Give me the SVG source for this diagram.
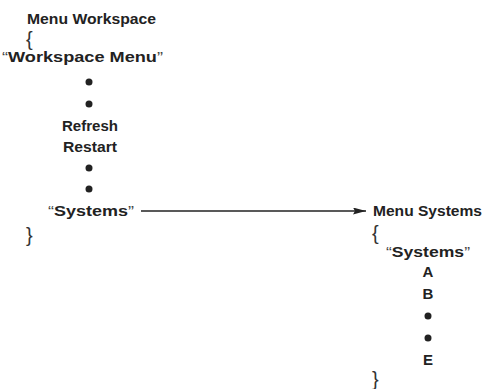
<svg xmlns="http://www.w3.org/2000/svg" width="484" height="389" viewBox="0 0 484 389">
<defs>
<style>
.t{font-family:"Liberation Sans",Arial,Helvetica,sans-serif;font-size:15px;font-weight:bold;fill:#222}
.q{font-weight:normal;fill:#444}
.c{text-anchor:middle}
.br{font-family:"Liberation Sans",Arial,sans-serif;font-size:20px;font-weight:normal;fill:#333}
.dot{fill:#222}
.conn{stroke:#222;stroke-width:1.3;fill:none}
</style>
<marker id="ah" viewBox="0 0 13 7" refX="13" refY="3.5" markerWidth="13" markerHeight="7" markerUnits="userSpaceOnUse" orient="auto">
<path d="M0,0 L13,3.5 L0,7 L2,3.5 Z" fill="#222"/>
</marker>
</defs>
<rect width="484" height="389" fill="#fff"/>
<g id="menu-workspace">
<text class="t" x="27" y="24" textLength="129" lengthAdjust="spacingAndGlyphs">Menu Workspace</text>
<text class="br" x="26" y="46">{</text>
<g id="item-workspace-menu"><text class="t" x="2" y="62" textLength="161" lengthAdjust="spacingAndGlyphs"><tspan class="q">“</tspan>Workspace Menu<tspan class="q">”</tspan></text></g>
<circle class="dot" cx="89" cy="82" r="3.5"/>
<circle class="dot" cx="89" cy="104" r="3.5"/>
<g id="item-refresh"><text class="t" x="62" y="131" textLength="56" lengthAdjust="spacingAndGlyphs">Refresh</text></g>
<g id="item-restart"><text class="t" x="63" y="152" textLength="54" lengthAdjust="spacingAndGlyphs">Restart</text></g>
<circle class="dot" cx="89" cy="168" r="3.5"/>
<circle class="dot" cx="89" cy="189" r="3.5"/>
<g id="item-systems"><text class="t" x="48" y="216" textLength="86" lengthAdjust="spacingAndGlyphs"><tspan class="q">“</tspan>Systems<tspan class="q">”</tspan></text></g>
<text class="br" x="26" y="242">}</text>
</g>
<g id="menu-systems">
<text class="t" x="373" y="216" textLength="109" lengthAdjust="spacingAndGlyphs">Menu Systems</text>
<text class="br" x="372" y="240">{</text>
<g id="item-systems-title"><text class="t" x="386" y="257" textLength="84" lengthAdjust="spacingAndGlyphs"><tspan class="q">“</tspan>Systems<tspan class="q">”</tspan></text></g>
<g id="item-a"><text class="t c" x="428" y="277">A</text></g>
<g id="item-b"><text class="t c" x="428" y="299">B</text></g>
<circle class="dot" cx="428" cy="316" r="3.5"/>
<circle class="dot" cx="428" cy="338" r="3.5"/>
<g id="item-e"><text class="t c" x="428" y="365">E</text></g>
<text class="br" x="372" y="386">}</text>
</g>
<g id="connectors">
<line class="conn" x1="141" y1="211" x2="366" y2="211" marker-end="url(#ah)"/>
</g>
</svg>
